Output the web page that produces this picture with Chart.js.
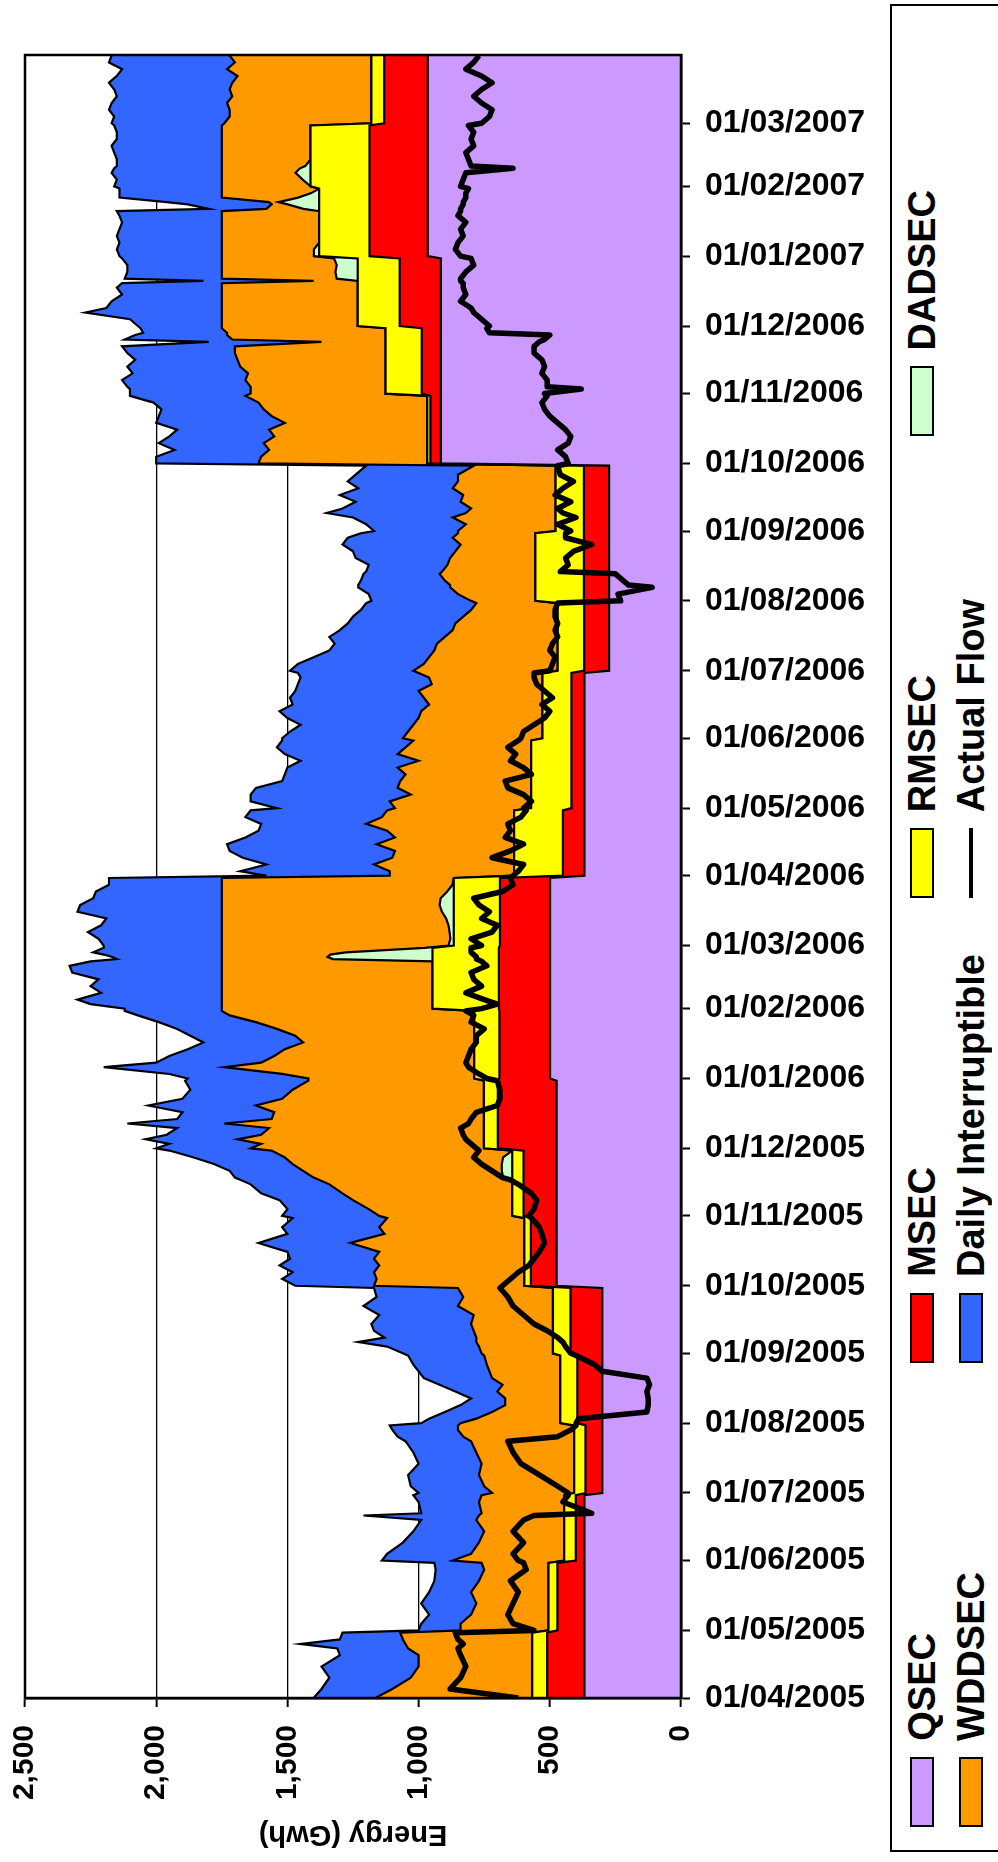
<!DOCTYPE html>
<html>
<head>
<meta charset="utf-8">
<title>Energy (Gwh)</title>
<script src="https://cdn.jsdelivr.net/npm/chart.js@4.4.1/dist/chart.umd.min.js"></script>
<style>
  body { margin: 0; background: #fff; }
  #wrap { position: relative; width: 998px; height: 1862px; overflow: hidden; font-family: 'Liberation Sans', Arial, sans-serif; color: #000; }
  #chartBox { position: absolute; left: 0; top: 0; width: 885px; height: 1862px; }
  #legendBox { position: absolute; left: 890px; top: 4px; width: 130px; height: 1848px; box-sizing: border-box; border: 2px solid #000; }
  .vtext { position: absolute; writing-mode: vertical-rl; transform: rotate(180deg); font-weight: bold; font-size: 38px; line-height: 38px; white-space: nowrap; }
  .sw { position: absolute; width: 24px; height: 70px; box-sizing: border-box; border: 2px solid #000; }
  .swLine { position: absolute; width: 4px; height: 70px; background: #000; }
  #ytitle { position: absolute; left: 0; top: 1819px; width: 706px; height: 34px; line-height: 34px; text-align: center; font-weight: bold; font-size: 29px; transform: rotate(180deg); }
</style>
</head>
<body>
<div id="wrap">
  <div id="chartBox"><canvas id="chart" width="885" height="1862"></canvas></div>
  <div id="ytitle">Energy (Gwh)</div>
  <div id="legendBox"></div>
</div>
<script>
// Day offsets are counted from 01/04/2005
const monthStartDays = [0, 30, 61, 91, 122, 153, 183, 214, 244, 275, 306, 334, 365, 395, 426, 456, 487, 518, 548, 579, 609, 640, 671, 699];
const monthLabels = ['01/04/2005', '01/05/2005', '01/06/2005', '01/07/2005', '01/08/2005', '01/09/2005',
  '01/10/2005', '01/11/2005', '01/12/2005', '01/01/2006', '01/02/2006', '01/03/2006',
  '01/04/2006', '01/05/2006', '01/06/2006', '01/07/2006', '01/08/2006', '01/09/2006',
  '01/10/2006', '01/11/2006', '01/12/2006', '01/01/2007', '01/02/2007', '01/03/2007'];

const valueTicks = [0, 500, 1000, 1500, 2000, 2500];
const valueTickLabels = ['0', '500', '1,000', '1,500', '2,000', '2,500'];

// monthly capacity bookings (GWh), one value per month
const qsecMonthly  = [368, 368, 368, 300, 300, 300, 474, 474, 474, 499, 499, 499, 368, 368, 368, 274, 274, 274, 915, 915, 915, 965, 965, 965];
const msecMonthly  = [142, 103, 33, 64, 95, 121, 98, 126, 224, 193, 195, 191, 82, 50, 49, 95, 96, 96, 40, 73, 157, 222, 222, 166];
const rmsecMonthly = [57, 34, 44, 43, 65, 67, 25, 43, 53, 96, 253, 176, 186, 153, 111, 101, 185, 108, 12, 138, 160, 192, 225, 49];

// sample days
const days = [
  0, 4, 9, 14, 19, 22, 24, 26, 29,
  30, 33, 37, 42, 47, 52, 57, 60,
  61, 64, 69, 74, 79, 81, 82, 87, 90,
  91, 94, 99, 104, 109, 114, 116, 119, 121,
  122, 124, 127, 130, 133, 136, 139, 142, 145, 148, 152,
  153, 156, 158, 160, 163, 166, 170, 174, 178, 182,
  183, 186, 189, 192, 195, 198, 202, 206, 209, 213,
  214, 217, 221, 224, 228, 230, 231, 234, 237, 240, 243,
  244, 246, 248, 250, 253, 255, 257, 260, 263, 266, 270, 274,
  275, 277, 280, 282, 285, 288, 291, 294, 297, 300, 303, 305,
  306, 308, 310, 313, 316, 319, 322, 325, 327, 328, 329, 330, 331, 333,
  334, 337, 340, 343, 346, 349, 352, 355, 358, 361, 364,
  365, 367, 370, 373, 376, 379, 382, 385, 388, 391, 394,
  395, 398, 401, 404, 407, 410, 413, 416, 419, 422, 425,
  426, 429, 432, 435, 438, 441, 444, 447, 450, 453, 455,
  456, 459, 462, 465, 468, 471, 474, 477, 480, 483, 486,
  487, 490, 493, 494, 496, 499, 500, 503, 506, 509, 512, 515, 517,
  518, 521, 524, 526, 528, 531, 534, 537, 540, 543, 547,
  548, 551, 554, 557, 560, 563, 566, 569, 572, 575, 578,
  579, 581, 582, 585, 588, 591, 594, 597, 600, 602, 603, 605, 606, 608,
  609, 612, 615, 617, 620, 623, 626, 628, 629, 630, 633, 636, 639,
  640, 643, 646, 649, 652, 655, 658, 660, 661, 663, 664, 666, 668, 670,
  671, 674, 677, 679, 680, 683, 686, 689, 692, 695, 698,
  699, 702, 705, 708, 711, 714, 717, 720, 723, 726, 729
];

const wddsec = [
  598, 533, 463, 433, 433, 473, 483, 493, 503,
  335, 335, 295, 275, 295, 265, 245, 255,
  425, 355, 325, 305, 335, 325, 315, 325, 315,
  313, 343, 363, 353, 373, 393, 423, 443, 443,
  380, 320, 260, 210, 210, 240, 220, 260, 270, 280, 290,
  272, 282, 292, 292, 302, 312, 302, 362, 342, 362,
  573, 563, 573, 553, 573, 553, 663, 533, 553, 523,
  507, 547, 607, 647, 697, 737, 722, 757, 797, 832, 917,
  889, 849, 939, 849, 819, 989, 809, 799, 869, 769, 729, 669,
  632, 732, 952, 812, 762, 722, 652, 682, 752, 832, 932, 962,
  803, 803, 803, 803, 803, 803, 803, 803, 803, 423, 403, 413, 473, 773,
  864, 871, 868, 864, 855, 839, 830, 834, 859, 879, 884,
  474, 474, 534, 464, 454, 524, 454, 484, 564, 504, 484,
  519, 539, 459, 509, 499, 479, 509, 429, 509, 479, 449,
  532, 512, 492, 472, 462, 432, 452, 472, 422, 432, 472,
  550, 510, 490, 470, 460, 430, 400, 390, 360, 330, 310,
  245, 295, 325, 325, 345, 365, 355, 335, 325, 305, 285, 315, 295,
  372, 342, 392, 342, 322, 362, 352, 392, 372, 372, 312,
  643, 633, 603, 623, 583, 603, 543, 593, 623, 643, 693,
  514, 514, 514, 534, 524, 554, 564, 574, 574, 244, 584, 604, 604, 624,
  518, 518, 518, 518, 518, 518, 518, 518, 168, 438, 433, 438, 428,
  351, 351, 371, 371, 371, 371, 371, 371, 141, 61, 36, 291, 341, 371,
  338, 308, 281, 298, 318, 338, 338, 338, 338, 338, 338,
  560, 540, 540, 550, 530, 540, 530, 510, 550, 520, 540
];

const dailyInterruptible = [
  235, 270, 310, 370, 300, 270, 400, 240, 220,
  160, 150, 160, 210, 160, 170, 185, 180,
  270, 320, 290, 270, 210, 440, 230, 230, 260,
  280, 280, 270, 240, 240, 250, 250, 250, 260,
  150, 180, 180, 170, 130, 160, 240, 260, 270, 280, 290,
  300, 350, 450, 350, 380, 380, 360, 360, 330, 320,
  300, 360, 310, 380, 320, 350, 350, 370, 370, 360,
  370, 310, 280, 310, 300, 300, 300, 280, 300, 350, 390,
  360, 350, 350, 360, 350, 370, 360, 350, 410, 380, 390, 470,
  460, 430, 460, 400, 400, 370, 380, 400, 380, 370, 350, 370,
  370, 500, 550, 460, 500, 470, 570, 580, 500, 400, 420, 450, 490, 450,
  450, 470, 510, 460, 440, 550, 540, 490, 480, 430, 430,
  470, 570, 410, 570, 630, 570, 570, 490, 400, 520, 520,
  450, 530, 610, 540, 450, 460, 420, 450, 430, 490, 500,
  460, 450, 430, 500, 540, 520, 510, 470, 510, 490, 460,
  470, 480, 440, 400, 390, 440, 430, 410, 420, 420, 420,
  380, 340, 350, 350, 320, 290, 290, 300, 360, 390, 450, 400, 370,
  320, 380, 380, 530, 490, 400, 470, 360, 420, 390, 410,
  390, 400, 360, 400, 400, 350, 490, 430, 390, 400, 440,
  460, 460, 470, 470, 440, 430, 390, 410, 430, 430, 410, 350, 320, 310,
  320, 350, 520, 440, 420, 380, 400, 380, 420, 370, 360, 360, 380,
  390, 400, 390, 400, 390, 380, 390, 400, 220, 320, 390, 390, 390, 390,
  410, 400, 420, 410, 400, 400, 410, 420, 400, 400, 410,
  430, 440, 460, 440, 440, 440, 470, 460, 400, 480, 450
];

// DADSEC is zero except on these days
const dadsecDays   = [231, 234, 237, 240, 328, 329, 330, 331, 333, 334, 337, 340, 343, 346, 349, 352, 355, 358, 361,
  630, 633, 636, 639, 640, 643, 661, 663, 664, 666, 668, 674, 677, 679, 680];
const dadsecValues = [35, 40, 40, 35, 380, 400, 390, 330, 30, 20, 13, 16, 20, 29, 45, 54, 50, 25, 5,
  80, 85, 80, 90, 20, 20, 60, 120, 155, 80, 30, 30, 57, 40, 20];

const actualFlow = [
  620, 880, 840, 820, 840, 850, 830, 850, 860,
  560, 640, 660, 640, 620, 650, 590, 600,
  620, 640, 600, 640, 600, 560, 340, 450, 430,
  430, 470, 540, 610, 640, 660, 470, 420, 400,
  400, 390, 130, 125, 125, 130, 120, 130, 300, 330, 400,
  420, 440, 450, 470, 510, 560, 600, 640, 660, 690,
  680, 650, 620, 580, 560, 540, 520, 530, 540, 570,
  580, 560, 550, 570, 620, 650, 680, 720, 760, 790, 770,
  780, 800, 820, 830, 840, 810, 800, 780, 700, 690, 690, 700,
  740, 770, 810, 820, 810, 800, 780, 780, 750, 800, 790, 820,
  760, 700, 750, 820, 760, 790, 800, 740, 760, 780, 780, 790, 800, 800,
  760, 800, 720, 700, 760, 730, 770, 790, 680, 640, 650,
  640, 620, 600, 720, 650, 600, 670, 650, 660, 610, 590,
  600, 570, 600, 660, 670, 570, 600, 650, 630, 660, 620,
  610, 600, 560, 520, 500, 530, 490, 520, 550, 560, 560,
  500, 490, 480, 500, 490, 470, 480, 470, 480, 480, 470,
  230, 240, 110, 200, 220, 250, 460, 430, 440, 410, 340, 440, 440,
  420, 470, 400, 450, 470, 420, 480, 450, 410, 460, 470,
  430, 440, 470, 430, 420, 440, 470, 500, 520, 530, 510,
  520, 380, 510, 510, 530, 520, 530, 560, 560, 540, 520, 500, 730, 740,
  730, 760, 790, 800, 840, 820, 830, 830, 840, 840, 820, 790, 800,
  840, 860, 850, 830, 840, 820, 850, 840, 840, 830, 830, 820, 820, 810,
  840, 830, 820, 640, 800, 810, 820, 790, 800, 790, 810,
  760, 730, 720, 760, 790, 760, 720, 760, 820, 790, 770
];

function monthOf(d) {
  let m = 0;
  while (m + 1 < monthStartDays.length && monthStartDays[m + 1] <= d) m++;
  return m;
}

const dadsec = days.map(d => {
  const k = dadsecDays.indexOf(d);
  return k >= 0 ? dadsecValues[k] : 0;
});

// stacking order from the axis outwards
const series = [
  { label: 'QSEC', color: '#CC99FF', values: days.map(d => qsecMonthly[monthOf(d)]) },
  { label: 'MSEC', color: '#FF0000', values: days.map(d => msecMonthly[monthOf(d)]) },
  { label: 'RMSEC', color: '#FFFF00', values: days.map(d => rmsecMonthly[monthOf(d)]) },
  { label: 'DADSEC', color: '#CCFFCC', values: dadsec },
  { label: 'WDDSEC', color: '#FF9900', values: wddsec },
  { label: 'Daily Interruptible', color: '#3366FF', values: dailyInterruptible }
];

const datasets = series.map((s, i) => ({
  label: s.label,
  data: days.map((d, j) => ({ x: s.values[j], y: d })),
  backgroundColor: s.color,
  borderColor: '#000',
  borderWidth: 2.2,
  fill: i === 0 ? 'origin' : '-1',
  pointRadius: 0,
  tension: 0
}));

datasets.push({
  label: 'Actual Flow',
  data: days.map((d, j) => ({ x: actualFlow[j], y: d })),
  borderColor: '#000',
  borderWidth: 5.5,
  borderJoinStyle: 'round',
  fill: false,
  pointRadius: 0,
  tension: 0,
  stack: 'flow',
  order: -1
});

// frame round the plot area
const frame = {
  id: 'frame',
  afterDraw(chart) {
    const { ctx, chartArea: a } = chart;
    ctx.save();
    ctx.strokeStyle = '#000';
    ctx.lineWidth = 2.5;
    ctx.strokeRect(a.left, a.top, a.right - a.left, a.bottom - a.top);
    ctx.restore();
  }
};

Chart.defaults.font.family = "'Liberation Sans', Arial, sans-serif";
Chart.defaults.color = '#000';

new Chart(document.getElementById('chart'), {
  type: 'line',
  data: { datasets },
  options: {
    indexAxis: 'y',
    responsive: false,
    animation: false,
    events: [],
    layout: { padding: { left: 25, top: 55, right: 0, bottom: 0 } },
    plugins: { legend: { display: false }, tooltip: { enabled: false } },
    scales: {
      x: {
        type: 'linear',
        position: 'bottom',
        min: 0,
        max: 2500,
        reverse: true,
        stacked: true,
        afterBuildTicks: ax => { ax.ticks = valueTicks.map(v => ({ value: v })); },
        afterFit: ax => { ax.height = 164; },
        ticks: {
          autoSkip: false,
          minRotation: 90,
          maxRotation: 90,
          padding: 18,
          font: { size: 30, weight: 'bold' },
          callback: v => valueTickLabels[valueTicks.indexOf(v)]
        },
        grid: { color: '#000', lineWidth: 1.3, tickLength: 9, tickColor: '#000', tickWidth: 2 },
        border: { display: true, color: '#000', width: 2.5 }
      },
      y: {
        type: 'linear',
        position: 'right',
        min: 0,
        max: 729.3,
        afterBuildTicks: ax => { ax.ticks = monthStartDays.map(v => ({ value: v })); },
        afterFit: ax => { ax.width = 204; },
        ticks: {
          autoSkip: false,
          padding: 15,
          font: { size: 32, weight: 'bold' },
          callback: v => monthLabels[monthStartDays.indexOf(v)]
        },
        grid: { drawOnChartArea: false, tickLength: 9, color: '#000', tickColor: '#000', tickWidth: 2 },
        border: { display: true, color: '#000', width: 2.5 }
      }
    }
  },
  plugins: [frame]
});

// legend, laid out in two columns like the original
const legendCols = [922, 971];
const swatchBottoms = [1827, 1363, 898, 436];
const textBottoms = [1741, 1277, 812, 350];
const legendItems = [
  { label: 'QSEC', color: '#CC99FF', col: 0, row: 0 },
  { label: 'MSEC', color: '#FF0000', col: 0, row: 1 },
  { label: 'RMSEC', color: '#FFFF00', col: 0, row: 2 },
  { label: 'DADSEC', color: '#CCFFCC', col: 0, row: 3 },
  { label: 'WDDSEC', color: '#FF9900', col: 1, row: 0 },
  { label: 'Daily Interruptible', color: '#3366FF', col: 1, row: 1 },
  { label: 'Actual Flow', color: null, col: 1, row: 2 }
];
const wrap = document.getElementById('wrap');
legendItems.forEach(it => {
  const cx = legendCols[it.col];
  const sw = document.createElement('div');
  if (it.color) {
    sw.className = 'sw';
    sw.style.left = (cx - 12) + 'px';
    sw.style.background = it.color;
  } else {
    sw.className = 'swLine';
    sw.style.left = (cx - 2) + 'px';
  }
  sw.style.top = (swatchBottoms[it.row] - 70) + 'px';
  wrap.appendChild(sw);
  const tx = document.createElement('div');
  tx.className = 'vtext';
  tx.textContent = it.label;
  tx.style.left = (cx - 19) + 'px';
  tx.style.bottom = (1862 - textBottoms[it.row]) + 'px';
  wrap.appendChild(tx);
});
</script>
</body>
</html>
